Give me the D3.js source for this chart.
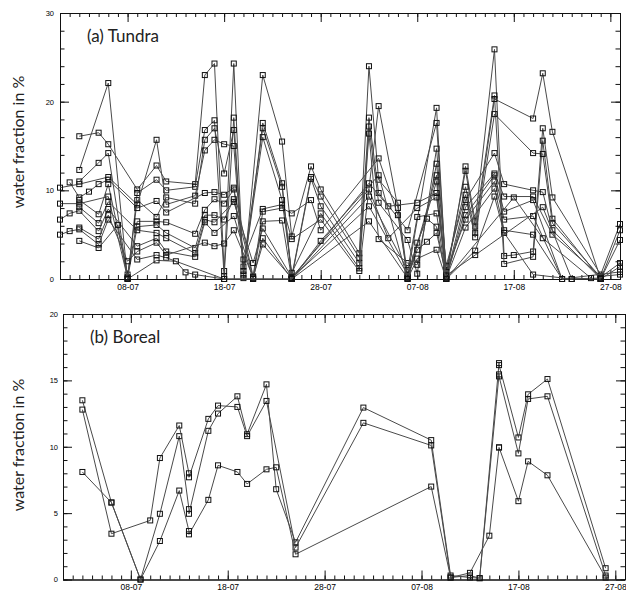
<!DOCTYPE html>
<html>
<head>
<meta charset="utf-8">
<script src="https://cdn.jsdelivr.net/npm/d3@7"></script>
<style>
  body { margin: 0; background: #fff; }
</style>
</head>
<body>
<div id="chart"></div>
<script>
var _ = null;

// x axis: labelled dates (day-month) and full range
var xTickLabels = ["08-07", "18-07", "28-07", "07-08", "17-08", "27-08"];
var xRange = ["01-07", "28-08"];

// (a) Tundra - observation dates and one array per site
var tundraDates = ["01-07", "02-07", "03-07", "04-07", "05-07", "06-07", "07-07", "08-07", "09-07", "11-07",
  "12-07", "13-07", "14-07", "15-07", "16-07", "17-07", "18-07", "19-07", "20-07", "21-07",
  "22-07", "24-07", "25-07", "27-07", "28-07", "01-08", "02-08", "03-08", "04-08", "05-08",
  "06-08", "07-08", "08-08", "09-08", "10-08", "12-08", "13-08", "15-08", "16-08", "17-08",
  "19-08", "20-08", "21-08", "22-08", "23-08", "25-08", "26-08", "28-08"];

var tundra0 = [_, _, 16.1, _, 16.5, 15.2, _, _, 10.1, 12.8,
  11.0, _, _, 10.7, 23.0, 24.3, 0.9, 24.3, 0.1, _,
  23.0, 15.5, 4.8, 12.7, 10.1, 2.9, 24.0, 11.2, _, 8.6,
  0.3, _, _, 19.3, 0.0, 12.7, 6.5, 25.9, 2.6, 2.7,
  3.1, 17.0, 9.2, _, _, _, 0.5, 6.2];
var tundra1 = [_, _, 12.3, _, _, 22.1, _, 0.0, 9.7, 11.2,
  10.0, _, _, 10.4, 16.8, 17.9, 0.3, 18.2, 0.5, _,
  17.6, 10.8, 0.3, 11.5, 9.3, 2.4, 18.2, 9.7, _, _,
  5.5, _, _, 17.6, 0.5, 12.2, 5.9, 20.7, 1.7, _,
  2.5, 15.6, 6.8, _, _, _, 0.0, 5.5];
var tundra2 = [_, _, 11.0, _, 13.1, 14.2, _, 0.2, 8.9, 7.0,
  9.2, _, _, 8.5, 15.7, 17.0, 11.9, 16.8, 1.4, _,
  17.0, 10.4, 0.1, 11.3, 8.2, 1.8, 17.2, 8.6, _, _,
  4.4, 0.6, _, 14.7, 1.0, 10.4, 5.2, 20.3, _, _,
  18.1, 23.2, 16.6, _, _, _, 0.0, 4.4];
var tundra3 = [10.3, _, 10.7, _, _, 11.5, _, _, 8.4, 15.7,
  8.4, _, _, 9.4, 14.5, 15.7, 15.2, 15.0, 0.9, _,
  16.0, 8.9, 0.7, _, 7.4, 1.2, 16.4, 4.5, _, _,
  1.8, 1.6, _, 13.0, 1.5, 9.5, 4.7, 18.6, _, _,
  14.2, 14.1, 6.3, _, _, _, 0.2, 1.8];
var tundra4 = [_, 10.9, 9.2, 9.85, 10.7, 11.2, _, _, 8.0, 8.8,
  7.5, _, _, _, 9.7, 9.8, 9.5, 10.3, 2.2, _,
  7.9, 8.4, 4.5, _, 6.7, 0.9, _, 19.5, _, 8.0,
  0.0, _, _, 11.7, 0.2, 8.9, _, 14.2, 10.7, _,
  10.0, 9.8, 5.5, _, _, _, 0.0, 1.4];
var tundra5 = [_, _, 8.9, _, 7.3, 10.7, _, 0.5, 6.5, 6.5,
  6.4, _, _, 5.1, 7.8, 9.0, 8.5, 10.1, _, 0.3,
  7.6, 8.0, 7.4, 8.9, 5.5, _, _, 13.6, _, 7.2,
  0.2, _, _, 11.0, 0.0, 8.1, _, 11.9, 9.3, _,
  9.3, _, 5.0, _, _, _, 0.3, 0.5];
var tundra6 = [8.5, _, 8.5, _, _, 9.3, _, 0.1, 5.9, 6.1,
  5.2, _, _, 3.5, 7.2, 7.2, 6.7, 9.0, _, 0.1,
  6.5, 6.6, 0.0, _, _, _, 10.8, _, 8.2, _,
  _, 8.6, _, 9.7, 0.3, 7.2, _, 11.7, 7.6, _,
  8.9, _, _, 0.0, _, _, 0.1, _];
var tundra7 = [_, _, 8.1, _, 6.3, 8.7, _, _, 5.5, 5.2,
  4.6, _, _, 2.9, 6.7, 6.4, _, 8.7, _, 1.8,
  5.7, _, 0.2, _, _, _, 10.1, _, 4.6, _,
  _, 8.0, _, 9.2, 0.8, 6.7, _, 11.0, 6.7, _,
  7.1, _, _, 0.0, _, _, 0.0, _];
var tundra8 = [6.7, 7.4, 7.7, _, 5.4, 7.9, _, _, 3.7, 4.6,
  3.1, _, _, 2.5, 6.4, 5.2, _, 7.1, _, 0.0,
  4.6, _, 0.0, _, _, _, 9.3, _, _, _,
  1.0, 7.0, _, 7.4, 0.1, 5.8, _, 10.2, 5.5, _,
  5.0, _, _, 0.0, _, _, _, 0.8];
var tundra9 = [_, _, 5.8, _, 4.5, 7.2, _, 2.0, 3.1, 4.1,
  2.7, _, _, _, 4.1, 3.7, 4.0, 5.5, _, 0.2,
  3.9, _, 0.1, _, _, _, 8.2, _, _, _,
  0.5, 4.1, 6.8, 5.9, 0.0, _, 3.2, 9.3, 5.2, _,
  0.5, _, _, _, 0.0, _, _, _];
var tundra10 = [5.0, 5.4, 5.6, _, 3.9, 6.7, _, _, 2.2, 2.7,
  2.4, _, _, _, _, _, 0.0, _, _, 0.0,
  _, _, 0.0, _, _, _, 6.5, _, _, _,
  0.1, 3.3, 4.2, 5.2, 0.4, _, 2.7, _, _, _,
  _, 8.1, _, _, 0.0, _, _, _];
var tundra11 = [_, _, 4.3, _, 3.5, _, 6.1, 0.0, _, 2.1,
  _, 2.0, 0.75, 0.5, _, _, 0.0, _, _, _,
  _, _, 0.0, _, 4.3, _, _, 11.7, _, _,
  0.0, 2.3, _, 3.3, 0.0, _, _, _, _, 9.2,
  _, 4.6, _, _, _, 0.1, _, _];

// (b) Boreal
var borealDates = ["03-07", "06-07", "09-07", "10-07", "11-07", "13-07", "14-07", "14-07", "16-07", "17-07",
  "19-07", "20-07", "22-07", "23-07", "25-07", "01-08", "08-08", "10-08", "12-08", "13-08",
  "14-08", "15-08", "15-08", "17-08", "18-08", "20-08", "26-08"];
var boreal0 = [13.5, 5.8, 0.0, _, 4.95, 10.8, 5.3, 4.95, 11.2, 12.5,
  13.8, 10.95, 14.7, 6.8, 2.8, 12.95, 10.5, 0.3, 0.15, 0.1,
  _, 16.3, 16.15, 10.7, 13.95, 15.1, 0.85];
var boreal1 = [12.8, 3.45, _, 4.45, 9.15, 11.6, 8.0, 7.7, 12.1, 13.1,
  13.0, 10.8, 13.45, _, 2.4, 11.8, 10.1, 0.15, 0.3, 0.1,
  _, 15.45, 15.3, 9.5, 13.6, 13.8, 0.3];
var boreal2 = [8.1, 5.8, 0.0, _, 2.9, 6.7, 3.65, 3.4, 6.0, 8.6,
  8.1, 7.2, 8.3, 8.45, 1.9, _, 7.0, 0.15, 0.5, _,
  3.3, 9.95, 9.95, 5.9, 8.9, 7.85, 0.15];

var tundraYTicks = [0, 10, 20, 30];
var borealYTicks = [0, 5, 10, 15, 20];

var parseDay = d3.utcParse("%d-%m");
var formatDay = d3.utcFormat("%d-%m");

var svg = d3.select("#chart")
  .append("svg")
  .attr("width", 626)
  .attr("height", 592);

function drawPanel(p) {
  var x = d3.scaleUtc()
    .domain(xRange.map(parseDay))
    .range([p.left, p.right]);
  var y = d3.scaleLinear()
    .domain([0, p.yTicks[p.yTicks.length - 1]])
    .range([p.bottom, p.top]);

  var majorX = xTickLabels.map(parseDay);
  var minorX = d3.utcDay.range(x.domain()[0], d3.utcDay.offset(x.domain()[1], 1));
  var minorY = d3.range(0, y.domain()[1] + 0.001, p.yMinor);

  var g = svg.append("g");

  // frame with inward ticks on all four sides
  function axis(gen, tx, ty, vals, size, labels) {
    var a = g.append("g")
      .attr("transform", "translate(" + tx + "," + ty + ")")
      .call(gen.tickValues(vals).tickSize(-size).tickSizeOuter(0)
        .tickPadding(labels ? p.pad : 0)
        .tickFormat(labels ? labels : ""));
    a.select(".domain").attr("stroke", "#111");
    a.selectAll(".tick line").attr("stroke", "#111");
    a.attr("font-family", "'Liberation Sans', Arial, sans-serif").attr("font-size", p.tickFont);
    return a;
  }
  axis(d3.axisBottom(x), 0, p.bottom, minorX, 4, null);
  axis(d3.axisBottom(x), 0, p.bottom, majorX, 9, formatDay);
  axis(d3.axisTop(x), 0, p.top, minorX, 4, null);
  axis(d3.axisTop(x), 0, p.top, majorX, 9, null);
  axis(d3.axisLeft(y), p.left, 0, minorY, 4.5, null);
  var yl = axis(d3.axisLeft(y), p.left, 0, p.yTicks, 9, d3.format("d"));
  yl.selectAll("text").attr("font-size", p.yTickFont).attr("dx", "-1");
  axis(d3.axisRight(y), p.right, 0, minorY, 4.5, null);
  axis(d3.axisRight(y), p.right, 0, p.yTicks, 9, null);

  var line = d3.line()
    .x(function (d) { return x(d.date); })
    .y(function (d) { return y(d.v); });

  p.series.forEach(function (vals) {
    var pts = [];
    vals.forEach(function (v, i) {
      if (v != null) pts.push({ date: parseDay(p.dates[i]), v: v });
    });
    g.append("path")
      .datum(pts)
      .attr("d", line)
      .attr("fill", "none")
      .attr("stroke", "#4a4a4a")
      .attr("stroke-width", 1);
    g.selectAll(null)
      .data(pts)
      .enter().append("rect")
      .attr("x", function (d) { return x(d.date) - 2.5; })
      .attr("y", function (d) { return y(d.v) - 2.5; })
      .attr("width", 5)
      .attr("height", 5)
      .attr("fill", "none")
      .attr("stroke", "#111")
      .attr("stroke-width", 1);
  });

  g.append("text")
    .attr("x", p.left + 27)
    .attr("y", p.top + 29)
    .attr("font-family", "Lato, 'Open Sans', sans-serif")
    .attr("font-size", 17)
    .attr("fill", "#222")
    .text(p.title);

  g.append("text")
    .attr("transform", "translate(24," + p.labelY + ") rotate(-90)")
    .attr("text-anchor", "middle")
    .attr("font-family", "Lato, 'Open Sans', sans-serif")
    .attr("font-size", 16)
    .attr("fill", "#222")
    .text("water fraction in %");
}

drawPanel({
  left: 60, right: 620, top: 13, bottom: 279,
  yTicks: tundraYTicks, yMinor: 2, pad: 5, tickFont: 8.5, yTickFont: 7.5,
  dates: tundraDates,
  series: [tundra0, tundra1, tundra2, tundra3, tundra4, tundra5,
    tundra6, tundra7, tundra8, tundra9, tundra10, tundra11],
  title: "(a) Tundra", labelY: 142
});

drawPanel({
  left: 63, right: 625, top: 314, bottom: 579.5,
  yTicks: borealYTicks, yMinor: 1, pad: 4, tickFont: 8.5, yTickFont: 7.5,
  dates: borealDates,
  series: [boreal0, boreal1, boreal2],
  title: "(b) Boreal", labelY: 445
});
</script>
</body>
</html>
